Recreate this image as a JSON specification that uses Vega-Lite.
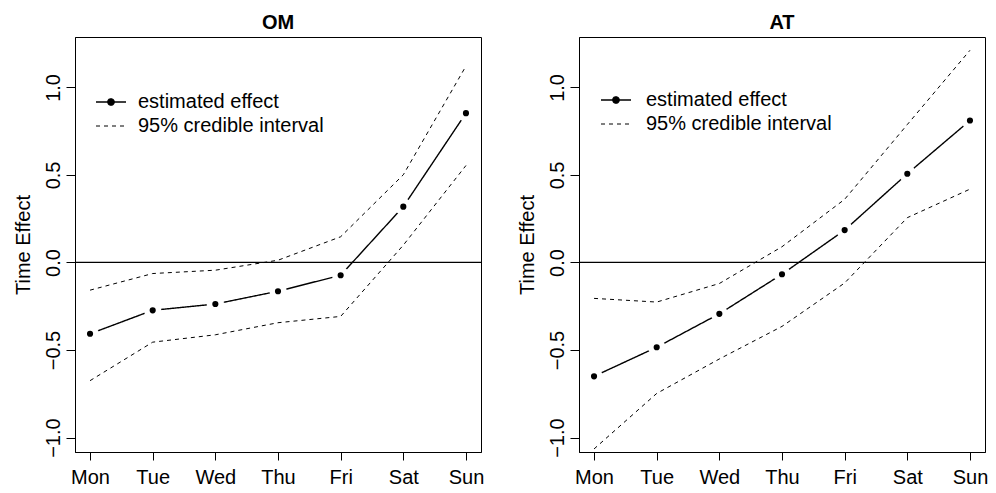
{
  "$schema": "https://vega.github.io/schema/vega-lite/v6.json",
  "padding": {"left": 12, "top": 12, "right": 5, "bottom": 5},
  "background": "white",
  "datasets": {
    "effects": [
      {"panel": "OM", "day": "Mon", "series": "estimated effect", "bound": "est", "value": -0.407},
      {"panel": "OM", "day": "Tue", "series": "estimated effect", "bound": "est", "value": -0.273},
      {"panel": "OM", "day": "Wed", "series": "estimated effect", "bound": "est", "value": -0.237},
      {"panel": "OM", "day": "Thu", "series": "estimated effect", "bound": "est", "value": -0.164},
      {"panel": "OM", "day": "Fri", "series": "estimated effect", "bound": "est", "value": -0.073},
      {"panel": "OM", "day": "Sat", "series": "estimated effect", "bound": "est", "value": 0.319},
      {"panel": "OM", "day": "Sun", "series": "estimated effect", "bound": "est", "value": 0.853},
      {"panel": "OM", "day": "Mon", "series": "95% credible interval", "bound": "upper", "value": -0.158},
      {"panel": "OM", "day": "Tue", "series": "95% credible interval", "bound": "upper", "value": -0.063},
      {"panel": "OM", "day": "Wed", "series": "95% credible interval", "bound": "upper", "value": -0.044},
      {"panel": "OM", "day": "Thu", "series": "95% credible interval", "bound": "upper", "value": 0.013},
      {"panel": "OM", "day": "Fri", "series": "95% credible interval", "bound": "upper", "value": 0.147},
      {"panel": "OM", "day": "Sat", "series": "95% credible interval", "bound": "upper", "value": 0.501},
      {"panel": "OM", "day": "Sun", "series": "95% credible interval", "bound": "upper", "value": 1.122},
      {"panel": "OM", "day": "Mon", "series": "95% credible interval", "bound": "lower", "value": -0.675},
      {"panel": "OM", "day": "Tue", "series": "95% credible interval", "bound": "lower", "value": -0.455},
      {"panel": "OM", "day": "Wed", "series": "95% credible interval", "bound": "lower", "value": -0.413},
      {"panel": "OM", "day": "Thu", "series": "95% credible interval", "bound": "lower", "value": -0.344},
      {"panel": "OM", "day": "Fri", "series": "95% credible interval", "bound": "lower", "value": -0.308},
      {"panel": "OM", "day": "Sat", "series": "95% credible interval", "bound": "lower", "value": 0.099},
      {"panel": "OM", "day": "Sun", "series": "95% credible interval", "bound": "lower", "value": 0.554},
      {"panel": "AT", "day": "Mon", "series": "estimated effect", "bound": "est", "value": -0.650},
      {"panel": "AT", "day": "Tue", "series": "estimated effect", "bound": "est", "value": -0.484},
      {"panel": "AT", "day": "Wed", "series": "estimated effect", "bound": "est", "value": -0.293},
      {"panel": "AT", "day": "Thu", "series": "estimated effect", "bound": "est", "value": -0.067},
      {"panel": "AT", "day": "Fri", "series": "estimated effect", "bound": "est", "value": 0.185},
      {"panel": "AT", "day": "Sat", "series": "estimated effect", "bound": "est", "value": 0.507},
      {"panel": "AT", "day": "Sun", "series": "estimated effect", "bound": "est", "value": 0.811},
      {"panel": "AT", "day": "Mon", "series": "95% credible interval", "bound": "upper", "value": -0.205},
      {"panel": "AT", "day": "Tue", "series": "95% credible interval", "bound": "upper", "value": -0.226},
      {"panel": "AT", "day": "Wed", "series": "95% credible interval", "bound": "upper", "value": -0.120},
      {"panel": "AT", "day": "Thu", "series": "95% credible interval", "bound": "upper", "value": 0.090},
      {"panel": "AT", "day": "Fri", "series": "95% credible interval", "bound": "upper", "value": 0.361},
      {"panel": "AT", "day": "Sat", "series": "95% credible interval", "bound": "upper", "value": 0.788},
      {"panel": "AT", "day": "Sun", "series": "95% credible interval", "bound": "upper", "value": 1.212},
      {"panel": "AT", "day": "Mon", "series": "95% credible interval", "bound": "lower", "value": -1.065},
      {"panel": "AT", "day": "Tue", "series": "95% credible interval", "bound": "lower", "value": -0.748},
      {"panel": "AT", "day": "Wed", "series": "95% credible interval", "bound": "lower", "value": -0.551},
      {"panel": "AT", "day": "Thu", "series": "95% credible interval", "bound": "lower", "value": -0.365},
      {"panel": "AT", "day": "Fri", "series": "95% credible interval", "bound": "lower", "value": -0.117},
      {"panel": "AT", "day": "Sat", "series": "95% credible interval", "bound": "lower", "value": 0.256},
      {"panel": "AT", "day": "Sun", "series": "95% credible interval", "bound": "lower", "value": 0.419}
    ]
  },
  "data": {"name": "effects"},
  "spacing": 31,
  "resolve": {
    "scale": {"x": "independent", "y": "independent", "strokeDash": "independent", "strokeWidth": "independent"},
    "axis": {"x": "independent", "y": "independent"},
    "legend": {"strokeDash": "independent"}
  },
  "hconcat": [
    {
      "width": 406,
      "height": 415,
      "title": {"text": "OM", "frame": "group", "anchor": "middle", "font": "Liberation Sans", "fontSize": 20, "fontWeight": "bold", "color": "black", "offset": 4},
      "transform": [{"filter": "datum.panel === 'OM'"}],
      "encoding": {
        "x": {"field": "day", "type": "ordinal", "sort": ["Mon", "Tue", "Wed", "Thu", "Fri", "Sat", "Sun"], "scale": {"type": "point", "padding": 0.24}, "axis": {"title": null, "labelAngle": 0}},
        "y": {"field": "value", "type": "quantitative", "scale": {"domain": [-1.0824, 1.288], "nice": false, "zero": false}, "axis": {"title": "Time Effect", "values": [-1, -0.5, 0, 0.5, 1], "format": ".1f"}}
      },
      "layer": [
        {"mark": {"type": "rule", "color": "black", "strokeWidth": 1}, "encoding": {"y": {"datum": 0}, "x": null}},
        {
          "mark": {"type": "line", "color": "black"},
          "encoding": {
            "detail": {"field": "bound"},
            "strokeWidth": {"field": "series", "type": "nominal", "scale": {"domain": ["estimated effect", "95% credible interval"], "range": [1.4, 1]}, "legend": null},
            "strokeDash": {
              "field": "series", "type": "nominal",
              "scale": {"domain": ["estimated effect", "95% credible interval"], "range": [[1, 0], [4, 4]]},
              "legend": {
                "orient": "none", "legendX": 26, "legendY": 55, "title": null, "padding": 0,
                "labelFont": "Liberation Sans", "labelFontSize": 20, "labelColor": "black", "labelOffset": 17, "labelLimit": 400,
                "rowPadding": 4, "symbolSize": 225, "symbolStrokeWidth": 1.2, "symbolStrokeColor": "black", "symbolFillColor": "black",
                "encode": {"symbols": {"update": {
                  "shape": {"signal": "datum.value === 'estimated effect' ? 'M-2,0H2M0.42,0A0.42,0.42,0,1,1,-0.42,0A0.42,0.42,0,1,1,0.42,0Z' : 'M-2,0H2'"},
                  "fill": {"value": "black"}, "stroke": {"value": "black"}, "opacity": {"value": 1}
                }}}
              }
            }
          }
        },
        {"transform": [{"filter": "datum.bound === 'est'"}], "mark": {"type": "circle", "color": "white", "opacity": 1, "size": 300}},
        {"transform": [{"filter": "datum.bound === 'est'"}], "mark": {"type": "circle", "color": "black", "opacity": 1, "size": 38}}
      ]
    },
    {
      "width": 406,
      "height": 415,
      "title": {"text": "AT", "frame": "group", "anchor": "middle", "font": "Liberation Sans", "fontSize": 20, "fontWeight": "bold", "color": "black", "offset": 4},
      "transform": [{"filter": "datum.panel === 'AT'"}],
      "encoding": {
        "x": {"field": "day", "type": "ordinal", "sort": ["Mon", "Tue", "Wed", "Thu", "Fri", "Sat", "Sun"], "scale": {"type": "point", "padding": 0.24}, "axis": {"title": null, "labelAngle": 0}},
        "y": {"field": "value", "type": "quantitative", "scale": {"domain": [-1.0824, 1.288], "nice": false, "zero": false}, "axis": {"title": "Time Effect", "values": [-1, -0.5, 0, 0.5, 1], "format": ".1f"}}
      },
      "layer": [
        {"mark": {"type": "rule", "color": "black", "strokeWidth": 1}, "encoding": {"y": {"datum": 0}, "x": null}},
        {
          "mark": {"type": "line", "color": "black"},
          "encoding": {
            "detail": {"field": "bound"},
            "strokeWidth": {"field": "series", "type": "nominal", "scale": {"domain": ["estimated effect", "95% credible interval"], "range": [1.4, 1]}, "legend": null},
            "strokeDash": {
              "field": "series", "type": "nominal",
              "scale": {"domain": ["estimated effect", "95% credible interval"], "range": [[1, 0], [4, 4]]},
              "legend": {
                "orient": "none", "legendX": 27, "legendY": 53, "title": null, "padding": 0,
                "labelFont": "Liberation Sans", "labelFontSize": 20, "labelColor": "black", "labelOffset": 20, "labelLimit": 400,
                "rowPadding": 4, "symbolSize": 225, "symbolStrokeWidth": 1.2, "symbolStrokeColor": "black", "symbolFillColor": "black",
                "encode": {"symbols": {"update": {
                  "shape": {"signal": "datum.value === 'estimated effect' ? 'M-2,0H2M0.42,0A0.42,0.42,0,1,1,-0.42,0A0.42,0.42,0,1,1,0.42,0Z' : 'M-2,0H2'"},
                  "fill": {"value": "black"}, "stroke": {"value": "black"}, "opacity": {"value": 1}
                }}}
              }
            }
          }
        },
        {"transform": [{"filter": "datum.bound === 'est'"}], "mark": {"type": "circle", "color": "white", "opacity": 1, "size": 300}},
        {"transform": [{"filter": "datum.bound === 'est'"}], "mark": {"type": "circle", "color": "black", "opacity": 1, "size": 38}}
      ]
    }
  ],
  "config": {
    "font": "Liberation Sans",
    "view": {"stroke": "black", "strokeWidth": 1},
    "axis": {
      "grid": false, "domain": true, "domainColor": "black", "domainWidth": 1,
      "tickColor": "black", "tickWidth": 1,
      "labelFont": "Liberation Sans", "labelFontSize": 20, "labelColor": "black",
      "titleFont": "Liberation Sans", "titleFontSize": 20, "titleColor": "black", "titleFontWeight": "normal"
    },
    "axisX": {"tickSize": 8, "labelPadding": 7, "labelFlush": false, "labelOverlap": false},
    "axisY": {"tickSize": 9, "labelPadding": 7, "labelAngle": -90, "labelAlign": "center", "labelBaseline": "alphabetic", "titlePadding": 10, "labelFlush": false, "labelOverlap": false}
  }
}
